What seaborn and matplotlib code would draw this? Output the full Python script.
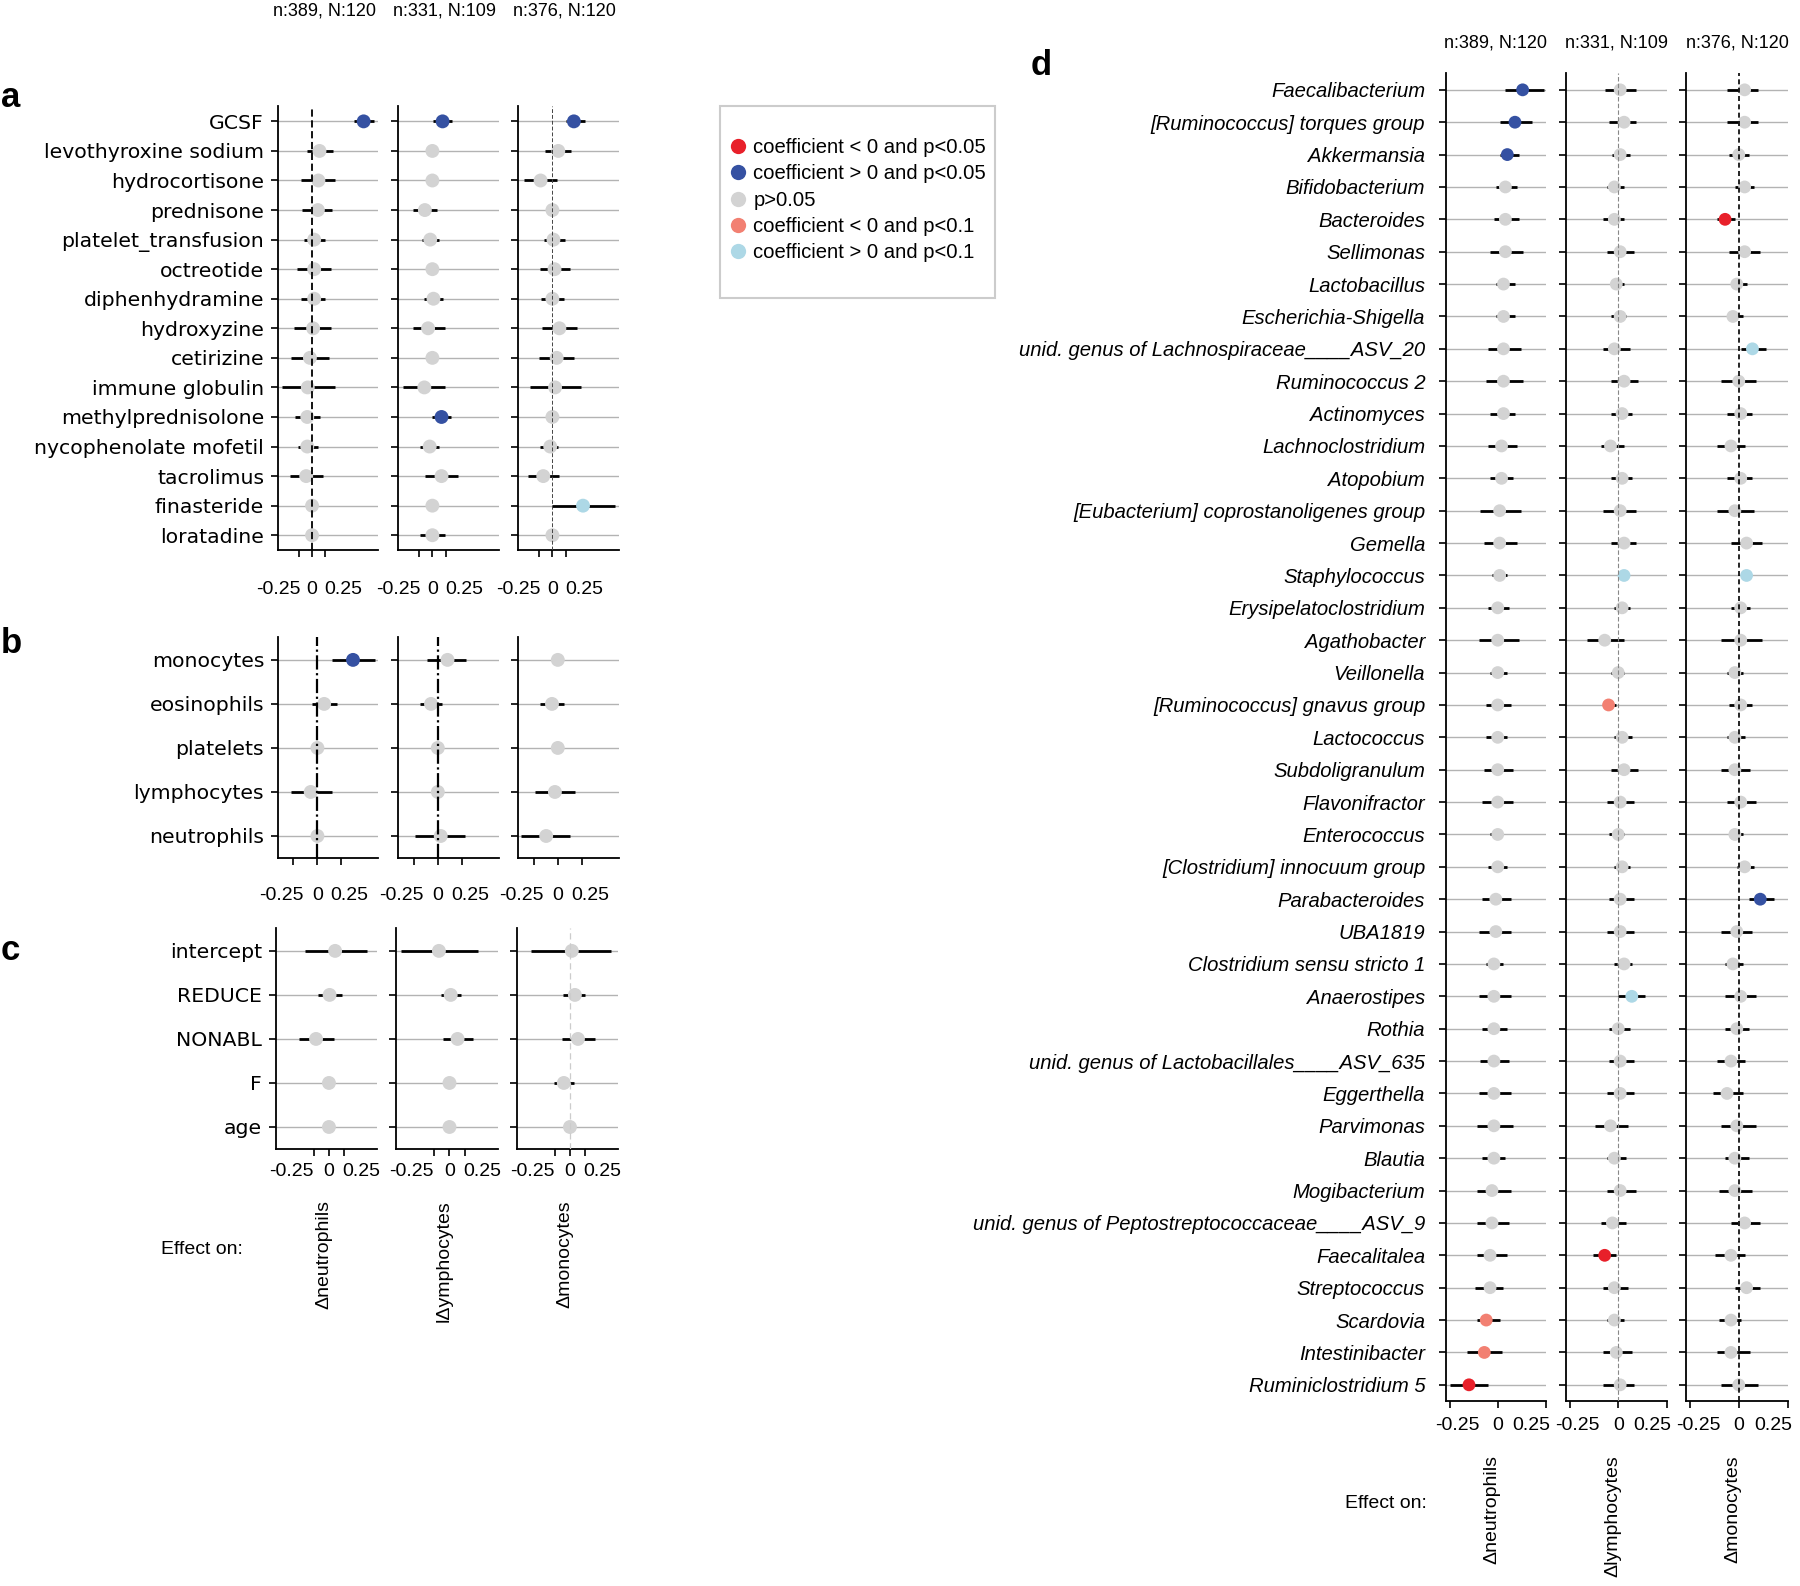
import numpy as np
import pandas as pd
import matplotlib
matplotlib.use("Agg")
import matplotlib.pyplot as plt
import seaborn as sns
from matplotlib.lines import Line2D
from matplotlib.patches import Rectangle
from matplotlib.transforms import ScaledTranslation

# ------------------------------------------------------------------ data
n_labels = ["n:389, N:120", "n:331, N:109", "n:376, N:120"]
outcome_labels_c = ["Δneutrophils", "lΔymphocytes", "Δmonocytes"]
outcome_labels_d = ["Δneutrophils", "Δlymphocytes", "Δmonocytes"]
xtick_vals = [-0.25, 0, 0.25]
xtick_labels = ["-0.25", "0", "0.25"]

sig_names = {
    "R": "coefficient < 0 and p<0.05",
    "B": "coefficient > 0 and p<0.05",
    "n": "p>0.05",
    "r": "coefficient < 0 and p<0.1",
    "b": "coefficient > 0 and p<0.1",
}
palette = {"R": "#e8202a", "B": "#3551a2", "n": "#d3d3d3", "r": "#f28072", "b": "#add8e6"}

# panel a : medications
a_labels = ["GCSF", "levothyroxine sodium", "hydrocortisone", "prednisone",
            "platelet_transfusion", "octreotide", "diphenhydramine", "hydroxyzine",
            "cetirizine", "immune globulin", "methylprednisolone",
            "nycophenolate mofetil", "tacrolimus", "finasteride", "loratadine"]
a_coef = [
    [0.97, 0.14, 0.12, 0.11, 0.04, 0.04, 0.04, 0.02, -0.04, -0.08, -0.09, -0.09, -0.11, 0.00, 0.00],
    [0.19, 0.00, 0.00, -0.14, -0.04, 0.00, 0.02, -0.08, 0.00, -0.15, 0.17, -0.05, 0.17, 0.00, 0.00],
    [0.40, 0.11, -0.22, 0.00, 0.02, 0.04, 0.00, 0.13, 0.08, 0.05, 0.00, -0.04, -0.17, 0.57, 0.00],
]
a_lo = [
    [0.78, -0.10, -0.21, -0.18, -0.15, -0.28, -0.20, -0.33, -0.40, -0.57, -0.32, -0.27, -0.41, -0.02, -0.02],
    [0.02, -0.02, -0.02, -0.36, -0.19, -0.02, -0.15, -0.36, -0.02, -0.55, 0.00, -0.23, -0.14, -0.02, -0.23],
    [0.25, -0.14, -0.52, -0.02, -0.15, -0.23, -0.21, -0.20, -0.24, -0.42, -0.02, -0.23, -0.45, 0.00, -0.02],
]
a_hi = [
    [1.17, 0.40, 0.44, 0.38, 0.24, 0.35, 0.25, 0.35, 0.31, 0.43, 0.15, 0.11, 0.21, 0.02, 0.02],
    [0.36, 0.02, 0.02, 0.09, 0.13, 0.02, 0.19, 0.23, 0.02, 0.23, 0.34, 0.12, 0.47, 0.02, 0.23],
    [0.61, 0.34, 0.08, 0.02, 0.23, 0.33, 0.21, 0.45, 0.40, 0.53, 0.02, 0.11, 0.13, 1.16, 0.02],
]
a_sig = ["Bnnnnnnnnnnnnnn", "BnnnnnnnnnBnnnn", "Bnnnnnnnnnnnnbn"]

# panel b : cell counts
b_labels = ["monocytes", "eosinophils", "platelets", "lymphocytes", "neutrophils"]
b_coef = [[0.37, 0.07, 0.00, -0.07, 0.00],
          [0.10, -0.07, 0.00, 0.00, 0.03],
          [0.00, -0.06, 0.00, -0.03, -0.12]]
b_lo = [[0.15, -0.06, -0.02, -0.28, -0.02],
        [-0.11, -0.18, -0.02, -0.02, -0.23],
        [-0.02, -0.18, -0.02, -0.23, -0.38]]
b_hi = [[0.60, 0.20, 0.02, 0.15, 0.02],
        [0.29, 0.04, 0.02, 0.02, 0.28],
        [0.02, 0.06, 0.02, 0.18, 0.13]]
b_sig = ["Bnnnn", "nnnnn", "nnnnn"]

# panel c : covariates
c_labels = ["intercept", "REDUCE", "NONABL", "F", "age"]
c_coef = [[0.10, 0.01, -0.21, 0.00, 0.00],
          [-0.17, 0.02, 0.13, 0.00, 0.00],
          [0.03, 0.08, 0.13, -0.10, 0.00]]
c_lo = [[-0.39, -0.17, -0.49, -0.02, -0.02],
        [-0.78, -0.14, -0.11, -0.02, -0.02],
        [-0.63, -0.12, -0.13, -0.26, -0.02]]
c_hi = [[0.61, 0.21, 0.08, 0.02, 0.02],
        [0.46, 0.18, 0.37, 0.02, 0.02],
        [0.67, 0.25, 0.40, 0.06, 0.02]]
c_sig = ["nnnnn", "nnnnn", "nnnnn"]

# panel d : genera
d_labels = ["Faecalibacterium", "[Ruminococcus] torques group", "Akkermansia",
            "Bifidobacterium", "Bacteroides", "Sellimonas", "Lactobacillus",
            "Escherichia-Shigella", "unid. genus of Lachnospiraceae____ASV_20",
            "Ruminococcus 2", "Actinomyces", "Lachnoclostridium", "Atopobium",
            "[Eubacterium] coprostanoligenes group", "Gemella", "Staphylococcus",
            "Erysipelatoclostridium", "Agathobacter", "Veillonella",
            "[Ruminococcus] gnavus group", "Lactococcus", "Subdoligranulum",
            "Flavonifractor", "Enterococcus", "[Clostridium] innocuum group",
            "Parabacteroides", "UBA1819", "Clostridium sensu stricto 1",
            "Anaerostipes", "Rothia", "unid. genus of Lactobacillales____ASV_635",
            "Eggerthella", "Parvimonas", "Blautia", "Mogibacterium",
            "unid. genus of Peptostreptococcaceae____ASV_9", "Faecalitalea",
            "Streptococcus", "Scardovia", "Intestinibacter", "Ruminiclostridium 5"]
d_coef = [
    [0.13, 0.09, 0.05, 0.04, 0.04, 0.04, 0.03, 0.03, 0.03, 0.03, 0.03, 0.02, 0.02, 0.01,
     0.01, 0.01, 0.00, 0.00, 0.00, 0.00, 0.00, 0.00, 0.00, 0.00, 0.00, -0.01, -0.01, -0.02,
     -0.02, -0.02, -0.02, -0.02, -0.02, -0.02, -0.03, -0.03, -0.04, -0.04, -0.06, -0.07, -0.15],
    [0.01, 0.03, 0.01, -0.02, -0.02, 0.01, -0.01, 0.01, -0.02, 0.03, 0.02, -0.04, 0.02, 0.01,
     0.03, 0.03, 0.02, -0.07, 0.00, -0.05, 0.02, 0.03, 0.01, 0.00, 0.02, 0.01, 0.01, 0.03,
     0.07, 0.00, 0.01, 0.01, -0.04, -0.02, 0.01, -0.03, -0.07, -0.02, -0.02, -0.01, 0.01],
    [0.03, 0.03, 0.00, 0.03, -0.07, 0.03, -0.01, -0.03, 0.07, 0.00, 0.01, -0.04, 0.01, -0.02,
     0.04, 0.04, 0.01, 0.01, -0.02, 0.01, -0.02, -0.02, 0.01, -0.02, 0.03, 0.11, -0.01, -0.03,
     0.01, -0.01, -0.04, -0.06, -0.01, -0.02, -0.02, 0.03, -0.04, 0.04, -0.04, -0.04, 0.00],
]
d_lo = [
    [0.04, 0.01, 0.01, -0.01, -0.02, -0.04, -0.01, -0.01, -0.05, -0.06, -0.04, -0.05, -0.04, -0.09,
     -0.07, -0.03, -0.05, -0.10, -0.04, -0.06, -0.06, -0.07, -0.08, -0.04, -0.05, -0.08, -0.10, -0.06,
     -0.10, -0.08, -0.09, -0.10, -0.11, -0.08, -0.11, -0.11, -0.11, -0.12, -0.11, -0.16, -0.25],
    [-0.07, -0.05, -0.03, -0.06, -0.08, -0.06, -0.04, -0.04, -0.08, -0.04, -0.04, -0.09, -0.04, -0.08,
     -0.04, 0.01, -0.02, -0.16, -0.04, -0.08, -0.02, -0.04, -0.06, -0.05, -0.02, -0.05, -0.06, -0.02,
     0.00, -0.05, -0.05, -0.06, -0.12, -0.06, -0.06, -0.09, -0.13, -0.08, -0.06, -0.08, -0.08],
    [-0.06, -0.06, -0.05, -0.02, -0.11, -0.05, -0.04, -0.06, 0.01, -0.09, -0.06, -0.11, -0.06, -0.11,
     -0.04, 0.02, -0.04, -0.09, -0.06, -0.05, -0.06, -0.09, -0.06, -0.05, -0.01, 0.05, -0.09, -0.07,
     -0.07, -0.07, -0.11, -0.13, -0.09, -0.07, -0.10, -0.04, -0.12, -0.02, -0.10, -0.11, -0.09],
]
d_hi = [
    [0.24, 0.18, 0.11, 0.10, 0.11, 0.13, 0.09, 0.09, 0.12, 0.13, 0.09, 0.10, 0.08, 0.12,
     0.10, 0.05, 0.06, 0.11, 0.05, 0.07, 0.05, 0.08, 0.08, 0.03, 0.05, 0.07, 0.07, 0.03,
     0.07, 0.05, 0.06, 0.07, 0.08, 0.04, 0.07, 0.06, 0.05, 0.03, 0.01, 0.02, -0.05],
    [0.09, 0.09, 0.06, 0.03, 0.03, 0.08, 0.03, 0.04, 0.06, 0.10, 0.07, 0.03, 0.07, 0.09,
     0.09, 0.05, 0.06, 0.03, 0.03, -0.01, 0.07, 0.10, 0.08, 0.03, 0.06, 0.08, 0.08, 0.07,
     0.14, 0.06, 0.08, 0.08, 0.05, 0.04, 0.09, 0.04, -0.01, 0.05, 0.03, 0.07, 0.08],
    [0.10, 0.10, 0.05, 0.08, -0.02, 0.11, 0.04, 0.02, 0.14, 0.09, 0.07, 0.03, 0.07, 0.08,
     0.12, 0.06, 0.06, 0.12, 0.02, 0.07, 0.03, 0.06, 0.09, 0.02, 0.08, 0.18, 0.07, 0.02,
     0.09, 0.05, 0.03, 0.02, 0.09, 0.05, 0.07, 0.11, 0.03, 0.11, 0.01, 0.06, 0.10],
]
d_sig = [
    "BBB" + "n" * 35 + "rrR",
    "n" * 15 + "b" + "nnn" + "r" + "n" * 8 + "b" + "n" * 7 + "R" + "nnnn",
    "nnnnRnnnb" + "n" * 6 + "b" + "n" * 9 + "B" + "n" * 15,
]

# ------------------------------------------------------------------ style
sns.set_theme(style="ticks")
plt.rcParams["font.family"] = ["Liberation Sans", "DejaVu Sans"]
plt.rcParams["axes.edgecolor"] = "black"
plt.rcParams["xtick.color"] = "black"
plt.rcParams["ytick.color"] = "black"
plt.rcParams["text.color"] = "black"

W, H, DPI = 1800, 1586, 100
fig = plt.figure(figsize=(W / DPI, H / DPI), dpi=DPI)
fig.patch.set_facecolor("white")


def add_ax(x0, x1, y0, y1):
    return fig.add_axes([x0 / W, 1 - y1 / H, (x1 - x0) / W, (y1 - y0) / H])


def forest(ax, labels, coef, lo, hi, sig, xlim, zero, dot_s, show_labels,
           ylab_font, xpad, ypad, xlab_ha, xlab_shift):
    n = len(labels)
    df = pd.DataFrame({"row": np.arange(n), "coef": coef, "lo": lo, "hi": hi,
                       "sig": list(sig)})
    for r in df["row"]:
        ax.axhline(r, color="#b3b3b3", lw=1.0, zorder=1)
    ax.hlines(df["row"], df["lo"], df["hi"], color="black", lw=2.0, zorder=2)
    sns.scatterplot(data=df, x="coef", y="row", hue="sig", palette=palette,
                    s=dot_s, edgecolor="none", linewidth=0, legend=False,
                    ax=ax, zorder=3)
    if zero is not None:
        ax.axvline(0, zorder=4, **zero)
    ax.set_xlim(*xlim)
    ax.set_ylim(n - 1 + 0.5, -0.52)
    ax.set_yticks(np.arange(n))
    if show_labels:
        ax.set_yticklabels(labels, **ylab_font)
    else:
        ax.set_yticklabels([])
    ax.set_xticks(xtick_vals)
    ax.set_xticklabels(xtick_labels, fontsize=14)
    ax.set_xlabel("")
    ax.set_ylabel("")
    sns.despine(ax=ax)
    for sp in ("left", "bottom"):
        ax.spines[sp].set_linewidth(1.3)
        ax.spines[sp].set_color("black")
    ax.tick_params(axis="x", length=5, width=1.2, pad=xpad)
    ax.tick_params(axis="y", length=5, width=1.2, pad=ypad)
    ax.set_facecolor("none")
    for lab, ha, dx in zip(ax.get_xticklabels(), xlab_ha, xlab_shift):
        lab.set_horizontalalignment(ha)
        lab.set_transform(lab.get_transform() +
                          ScaledTranslation(dx / DPI, 0, fig.dpi_scale_trans))


dej = dict(fontfamily="DejaVu Sans", fontsize=14.7)
ita = dict(fontfamily="Liberation Sans", fontsize=14.6, fontstyle="italic")
ha_rcl = ["right", "center", "left"]
ha_ccc = ["center", "center", "center"]

# panel a
xs_ab = [(278, 378), (398, 499), (518, 619)]
zeros_a = [dict(color="black", lw=1.3, ls=(0, (4, 2))), None,
           dict(color="#444444", lw=0.7, ls=(0, (4, 2)))]
for k in range(3):
    ax = add_ax(xs_ab[k][0], xs_ab[k][1], 106, 550)
    forest(ax, a_labels, a_coef[k], a_lo[k], a_hi[k], a_sig[k], (-0.64, 1.24),
           zeros_a[k], 100, k == 0, dej, 17, 5, ha_rcl, [2, 0, -1])
    fig.text((xs_ab[k][0] + xs_ab[k][1]) / 2 / W - 4 / W, 1 - 15 / H, n_labels[k],
             ha="center", va="baseline", fontsize=13)

# panel b
zeros_b = [dict(color="black", lw=1.6, ls="-."), dict(color="black", lw=1.6, ls="-."), None]
for k in range(3):
    ax = add_ax(xs_ab[k][0], xs_ab[k][1], 637, 858)
    forest(ax, b_labels, b_coef[k], b_lo[k], b_hi[k], b_sig[k], (-0.41, 0.63),
           zeros_b[k], 100, k == 0, dej, 16, 5, ha_rcl, [10, 0, -11])

# panel c
xs_c = [(276, 377), (396, 498), (517, 618)]
zeros_c = [None, None, dict(color="#cccccc", lw=0.9, ls=(0, (5, 3)))]
for k in range(3):
    ax = add_ax(xs_c[k][0], xs_c[k][1], 928, 1149)
    forest(ax, c_labels, c_coef[k], c_lo[k], c_hi[k], c_sig[k], (-0.86, 0.78),
           zeros_c[k], 100, k == 0, dej, 5.3, 5, ha_rcl, [0, 0, -2])
    fig.text((xs_c[k][0] + xs_c[k][1]) / 2 / W - 3 / W, 1 - 1200 / H,
             outcome_labels_c[k], rotation=90, ha="center", va="top", fontsize=14)
fig.text(202 / W, 1 - 1254 / H, "Effect on:", ha="center", va="baseline", fontsize=14)

# panel d
xs_d = [(1446, 1546), (1566, 1667), (1686, 1788)]
zeros_d = [None, dict(color="#888888", lw=0.8, ls=(0, (4, 2))),
           dict(color="black", lw=1.2, ls=(0, (3, 2)))]
for k in range(3):
    ax = add_ax(xs_d[k][0], xs_d[k][1], 73, 1401)
    forest(ax, d_labels, d_coef[k], d_lo[k], d_hi[k], d_sig[k], (-0.27, 0.252),
           zeros_d[k], 85, k == 0, ita, 6.5, 10, ha_ccc, [8, 0, -14])
    cx = (xs_d[k][0] + xs_d[k][1]) / 2
    fig.text(cx / W, 1 - 47 / H, n_labels[k], ha="center", va="baseline", fontsize=13)
    fig.text((cx - 4) / W, 1 - 1455 / H, outcome_labels_d[k], rotation=90,
             ha="center", va="top", fontsize=14)
fig.text(1386 / W, 1 - 1508 / H, "Effect on:", ha="center", va="baseline", fontsize=14)

# panel letters
for letter, x, y in [("a", 1, 107), ("b", 1, 653), ("c", 1, 960), ("d", 1031, 75)]:
    fig.text(x / W, 1 - y / H, letter, fontsize=25, fontweight="bold",
             ha="left", va="baseline")

# legend
handles = [Line2D([], [], marker="o", ls="", markersize=11, markeredgewidth=0,
                  color=palette[c]) for c in ["R", "B", "n", "r", "b"]]
fig.legend(handles, [sig_names[c] for c in ["R", "B", "n", "r", "b"]],
           loc="upper left", bbox_to_anchor=(729 / W, 1 - 138 / H),
           frameon=False, fontsize=14.6, handlelength=0.9, handletextpad=0.3,
           labelspacing=0.36, borderpad=0, borderaxespad=0)
fig.add_artist(Rectangle((720 / W, 1 - 298 / H), 275 / W, 192 / H,
                         transform=fig.transFigure, fill=False,
                         edgecolor="#cccccc", lw=1.5))

fig.savefig("out.png", dpi=DPI, facecolor="white")
